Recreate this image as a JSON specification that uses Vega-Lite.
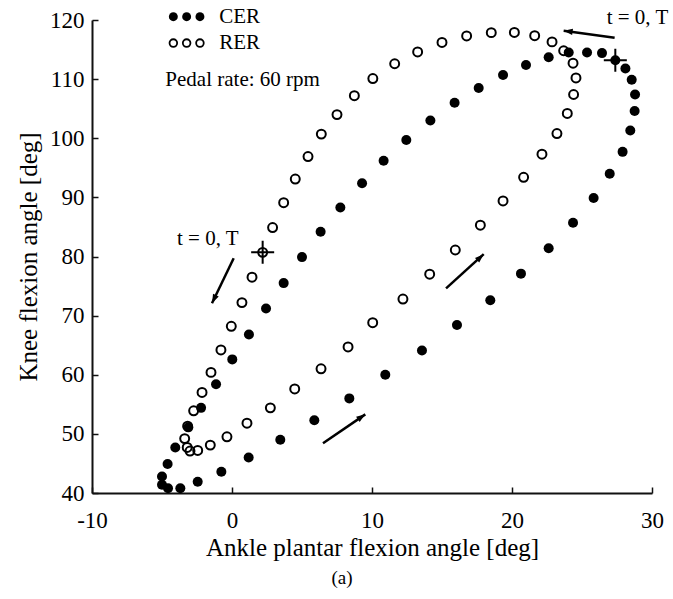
{
  "$schema": "https://vega.github.io/schema/vega-lite/v6.json",
  "width": 560,
  "height": 473,
  "autosize": {"type": "none"},
  "padding": {"left": 92, "top": 20, "right": 21, "bottom": 106},
  "background": "white",
  "config": {
    "font": "Liberation Serif",
    "view": {"stroke": null},
    "axis": {
      "grid": false,
      "domainColor": "#111",
      "domainWidth": 2,
      "tickColor": "#111",
      "tickWidth": 1.5,
      "tickSize": -6,
      "labelFont": "Liberation Serif",
      "labelFontSize": 23,
      "labelColor": "#000",
      "labelFlush": false,
      "labelOverlap": false,
      "labelExpr": "'' + datum.value",
      "titleFont": "Liberation Serif",
      "titleFontSize": 25,
      "titleFontWeight": "normal",
      "titleColor": "#000"
    }
  },
  "title": {
    "text": "(a)",
    "orient": "bottom",
    "anchor": "middle",
    "dx": -30,
    "offset": 9,
    "fontSize": 19,
    "fontWeight": "normal",
    "font": "Liberation Serif",
    "color": "#000"
  },
  "datasets": {
    "cycle": [
      {"series": "CER", "ankle": 27.38, "knee": 113.2, "t0": true},
      {"series": "CER", "ankle": 26.43, "knee": 114.4, "t0": false},
      {"series": "CER", "ankle": 25.36, "knee": 114.5, "t0": false},
      {"series": "CER", "ankle": 24.05, "knee": 114.5, "t0": false},
      {"series": "CER", "ankle": 22.62, "knee": 113.7, "t0": false},
      {"series": "CER", "ankle": 21.0, "knee": 112.4, "t0": false},
      {"series": "CER", "ankle": 19.36, "knee": 110.7, "t0": false},
      {"series": "CER", "ankle": 17.62, "knee": 108.5, "t0": false},
      {"series": "CER", "ankle": 15.9, "knee": 106.0, "t0": false},
      {"series": "CER", "ankle": 14.17, "knee": 103.0, "t0": false},
      {"series": "CER", "ankle": 12.45, "knee": 99.7, "t0": false},
      {"series": "CER", "ankle": 10.83, "knee": 96.2, "t0": false},
      {"series": "CER", "ankle": 9.29, "knee": 92.4, "t0": false},
      {"series": "CER", "ankle": 7.74, "knee": 88.3, "t0": false},
      {"series": "CER", "ankle": 6.33, "knee": 84.2, "t0": false},
      {"series": "CER", "ankle": 5.0, "knee": 79.9, "t0": false},
      {"series": "CER", "ankle": 3.69, "knee": 75.5, "t0": false},
      {"series": "CER", "ankle": 2.43, "knee": 71.2, "t0": false},
      {"series": "CER", "ankle": 1.21, "knee": 66.8, "t0": false},
      {"series": "CER", "ankle": 0.02, "knee": 62.6, "t0": false},
      {"series": "CER", "ankle": -1.14, "knee": 58.4, "t0": false},
      {"series": "CER", "ankle": -2.21, "knee": 54.4, "t0": false},
      {"series": "CER", "ankle": -3.12, "knee": 51.1, "t0": false},
      {"series": "CER", "ankle": -4.05, "knee": 47.7, "t0": false},
      {"series": "CER", "ankle": -4.6, "knee": 44.9, "t0": false},
      {"series": "CER", "ankle": -5.0, "knee": 42.8, "t0": false},
      {"series": "CER", "ankle": -5.0, "knee": 41.4, "t0": false},
      {"series": "CER", "ankle": -4.57, "knee": 40.8, "t0": false},
      {"series": "CER", "ankle": -3.69, "knee": 40.8, "t0": false},
      {"series": "CER", "ankle": -2.45, "knee": 41.9, "t0": false},
      {"series": "CER", "ankle": -0.76, "knee": 43.6, "t0": false},
      {"series": "CER", "ankle": 1.19, "knee": 46.0, "t0": false},
      {"series": "CER", "ankle": 3.45, "knee": 49.0, "t0": false},
      {"series": "CER", "ankle": 5.88, "knee": 52.3, "t0": false},
      {"series": "CER", "ankle": 8.38, "knee": 56.0, "t0": false},
      {"series": "CER", "ankle": 10.95, "knee": 60.0, "t0": false},
      {"series": "CER", "ankle": 13.57, "knee": 64.1, "t0": false},
      {"series": "CER", "ankle": 16.07, "knee": 68.4, "t0": false},
      {"series": "CER", "ankle": 18.45, "knee": 72.6, "t0": false},
      {"series": "CER", "ankle": 20.64, "knee": 77.1, "t0": false},
      {"series": "CER", "ankle": 22.62, "knee": 81.4, "t0": false},
      {"series": "CER", "ankle": 24.36, "knee": 85.7, "t0": false},
      {"series": "CER", "ankle": 25.83, "knee": 89.9, "t0": false},
      {"series": "CER", "ankle": 26.98, "knee": 94.0, "t0": false},
      {"series": "CER", "ankle": 27.9, "knee": 97.7, "t0": false},
      {"series": "CER", "ankle": 28.45, "knee": 101.3, "t0": false},
      {"series": "CER", "ankle": 28.76, "knee": 104.6, "t0": false},
      {"series": "CER", "ankle": 28.79, "knee": 107.4, "t0": false},
      {"series": "CER", "ankle": 28.55, "knee": 109.9, "t0": false},
      {"series": "CER", "ankle": 28.1, "knee": 111.8, "t0": false},
      {"series": "RER", "ankle": 2.19, "knee": 80.7, "t0": true},
      {"series": "RER", "ankle": 1.43, "knee": 76.5, "t0": false},
      {"series": "RER", "ankle": 0.71, "knee": 72.2, "t0": false},
      {"series": "RER", "ankle": -0.05, "knee": 68.2, "t0": false},
      {"series": "RER", "ankle": -0.79, "knee": 64.2, "t0": false},
      {"series": "RER", "ankle": -1.5, "knee": 60.4, "t0": false},
      {"series": "RER", "ankle": -2.14, "knee": 57.0, "t0": false},
      {"series": "RER", "ankle": -2.74, "knee": 53.9, "t0": false},
      {"series": "RER", "ankle": -3.17, "knee": 51.3, "t0": false},
      {"series": "RER", "ankle": -3.38, "knee": 49.2, "t0": false},
      {"series": "RER", "ankle": -3.2, "knee": 47.7, "t0": false},
      {"series": "RER", "ankle": -3.0, "knee": 47.1, "t0": false},
      {"series": "RER", "ankle": -2.45, "knee": 47.2, "t0": false},
      {"series": "RER", "ankle": -1.55, "knee": 48.1, "t0": false},
      {"series": "RER", "ankle": -0.36, "knee": 49.5, "t0": false},
      {"series": "RER", "ankle": 1.07, "knee": 51.8, "t0": false},
      {"series": "RER", "ankle": 2.74, "knee": 54.4, "t0": false},
      {"series": "RER", "ankle": 4.48, "knee": 57.6, "t0": false},
      {"series": "RER", "ankle": 6.36, "knee": 61.0, "t0": false},
      {"series": "RER", "ankle": 8.29, "knee": 64.7, "t0": false},
      {"series": "RER", "ankle": 10.05, "knee": 68.8, "t0": false},
      {"series": "RER", "ankle": 12.21, "knee": 72.8, "t0": false},
      {"series": "RER", "ankle": 14.12, "knee": 77.0, "t0": false},
      {"series": "RER", "ankle": 15.95, "knee": 81.1, "t0": false},
      {"series": "RER", "ankle": 17.74, "knee": 85.3, "t0": false},
      {"series": "RER", "ankle": 19.36, "knee": 89.4, "t0": false},
      {"series": "RER", "ankle": 20.83, "knee": 93.4, "t0": false},
      {"series": "RER", "ankle": 22.14, "knee": 97.3, "t0": false},
      {"series": "RER", "ankle": 23.21, "knee": 100.8, "t0": false},
      {"series": "RER", "ankle": 23.95, "knee": 104.2, "t0": false},
      {"series": "RER", "ankle": 24.4, "knee": 107.4, "t0": false},
      {"series": "RER", "ankle": 24.57, "knee": 110.2, "t0": false},
      {"series": "RER", "ankle": 24.36, "knee": 112.7, "t0": false},
      {"series": "RER", "ankle": 23.69, "knee": 114.8, "t0": false},
      {"series": "RER", "ankle": 22.86, "knee": 116.3, "t0": false},
      {"series": "RER", "ankle": 21.62, "knee": 117.35, "t0": false},
      {"series": "RER", "ankle": 20.17, "knee": 117.9, "t0": false},
      {"series": "RER", "ankle": 18.52, "knee": 117.86, "t0": false},
      {"series": "RER", "ankle": 16.76, "knee": 117.3, "t0": false},
      {"series": "RER", "ankle": 15.0, "knee": 116.2, "t0": false},
      {"series": "RER", "ankle": 13.26, "knee": 114.6, "t0": false},
      {"series": "RER", "ankle": 11.62, "knee": 112.6, "t0": false},
      {"series": "RER", "ankle": 10.06, "knee": 110.1, "t0": false},
      {"series": "RER", "ankle": 8.74, "knee": 107.2, "t0": false},
      {"series": "RER", "ankle": 7.5, "knee": 104.0, "t0": false},
      {"series": "RER", "ankle": 6.38, "knee": 100.7, "t0": false},
      {"series": "RER", "ankle": 5.43, "knee": 96.9, "t0": false},
      {"series": "RER", "ankle": 4.52, "knee": 93.1, "t0": false},
      {"series": "RER", "ankle": 3.69, "knee": 89.1, "t0": false},
      {"series": "RER", "ankle": 2.9, "knee": 84.9, "t0": false}
    ],
    "key": [
      {"series": "CER", "ankle": -4.19, "knee": 120.56},
      {"series": "CER", "ankle": -3.24, "knee": 120.56},
      {"series": "CER", "ankle": -2.29, "knee": 120.56},
      {"series": "RER", "ankle": -4.19, "knee": 116.1},
      {"series": "RER", "ankle": -3.24, "knee": 116.1},
      {"series": "RER", "ankle": -2.29, "knee": 116.1}
    ],
    "notes": [
      {"label": "CER", "ankle": -0.91, "knee": 120.56},
      {"label": "RER", "ankle": -0.91, "knee": 116.1},
      {"label": "Pedal rate: 60 rpm", "ankle": -4.76, "knee": 109.85},
      {"label": "t = 0, T", "ankle": 26.76, "knee": 120.29},
      {"label": "t = 0, T", "ankle": -3.93, "knee": 82.96}
    ],
    "arrows": [
      {"id": "top", "ankle": 27.33, "knee": 117.0, "ankle2": 23.69, "knee2": 118.2},
      {"id": "left", "ankle": 0.12, "knee": 79.7, "ankle2": -1.43, "knee2": 72.1},
      {"id": "mid", "ankle": 15.29, "knee": 74.6, "ankle2": 17.98, "knee2": 80.4},
      {"id": "low", "ankle": 6.5, "knee": 48.4, "ankle2": 9.52, "knee2": 53.3}
    ]
  },
  "encoding": {
    "x": {
      "field": "ankle",
      "type": "quantitative",
      "scale": {"domain": [-10, 30], "nice": false, "zero": false},
      "axis": {
        "title": "Ankle plantar flexion angle [deg]",
        "values": [-10, 0, 10, 20, 30],
        "labelPadding": 22,
        "titlePadding": 3
      }
    },
    "y": {
      "field": "knee",
      "type": "quantitative",
      "scale": {"domain": [40, 120], "nice": false, "zero": false},
      "axis": {
        "title": "Knee flexion angle [deg]",
        "values": [40, 50, 60, 70, 80, 90, 100, 110, 120],
        "labelPadding": 14,
        "titlePadding": 8
      }
    }
  },
  "layer": [
    {
      "data": {"name": "cycle"},
      "transform": [{"filter": "datum.series === 'CER'"}],
      "mark": {"type": "point", "shape": "circle", "filled": true, "fill": "#000", "size": 100, "opacity": 1}
    },
    {
      "data": {"name": "cycle"},
      "transform": [{"filter": "datum.series === 'RER'"}],
      "mark": {"type": "point", "shape": "circle", "filled": false, "stroke": "#000", "strokeWidth": 2, "size": 80, "opacity": 1}
    },
    {
      "data": {"name": "cycle"},
      "transform": [{"filter": "datum.t0"}],
      "mark": {"type": "point", "shape": "M-1,0L1,0M0,-1L0,1", "filled": false, "stroke": "#000", "strokeWidth": 2, "size": 530, "opacity": 1}
    },
    {
      "data": {"name": "key"},
      "transform": [{"filter": "datum.series === 'CER'"}],
      "mark": {"type": "point", "shape": "circle", "filled": true, "fill": "#000", "size": 80, "opacity": 1, "clip": false}
    },
    {
      "data": {"name": "key"},
      "transform": [{"filter": "datum.series === 'RER'"}],
      "mark": {"type": "point", "shape": "circle", "filled": false, "stroke": "#000", "strokeWidth": 1.8, "size": 58, "opacity": 1, "clip": false}
    },
    {
      "data": {"name": "notes"},
      "mark": {"type": "text", "align": "left", "baseline": "middle", "fontSize": 21, "font": "Liberation Serif", "color": "#000", "clip": false},
      "encoding": {"text": {"field": "label"}}
    },
    {
      "data": {"name": "arrows"},
      "mark": {"type": "rule", "stroke": "#000", "strokeWidth": 2.5},
      "encoding": {"x2": {"field": "ankle2"}, "y2": {"field": "knee2"}}
    },
    {
      "data": {"name": "arrows"},
      "transform": [{"filter": "datum.id === 'top'"}],
      "mark": {"type": "point", "shape": "M0,0L-0.35,1L0.35,1Z", "filled": true, "fill": "#000", "size": 324, "angle": 278, "opacity": 1},
      "encoding": {"x": {"field": "ankle2", "type": "quantitative"}, "y": {"field": "knee2", "type": "quantitative"}}
    },
    {
      "data": {"name": "arrows"},
      "transform": [{"filter": "datum.id === 'left'"}],
      "mark": {"type": "point", "shape": "M0,0L-0.35,1L0.35,1Z", "filled": true, "fill": "#000", "size": 324, "angle": 205.7, "opacity": 1},
      "encoding": {"x": {"field": "ankle2", "type": "quantitative"}, "y": {"field": "knee2", "type": "quantitative"}}
    },
    {
      "data": {"name": "arrows"},
      "transform": [{"filter": "datum.id === 'mid'"}],
      "mark": {"type": "point", "shape": "M0,0L-0.35,1L0.35,1Z", "filled": true, "fill": "#000", "size": 324, "angle": 47.4, "opacity": 1},
      "encoding": {"x": {"field": "ankle2", "type": "quantitative"}, "y": {"field": "knee2", "type": "quantitative"}}
    },
    {
      "data": {"name": "arrows"},
      "transform": [{"filter": "datum.id === 'low'"}],
      "mark": {"type": "point", "shape": "M0,0L-0.35,1L0.35,1Z", "filled": true, "fill": "#000", "size": 324, "angle": 55.6, "opacity": 1},
      "encoding": {"x": {"field": "ankle2", "type": "quantitative"}, "y": {"field": "knee2", "type": "quantitative"}}
    }
  ]
}
